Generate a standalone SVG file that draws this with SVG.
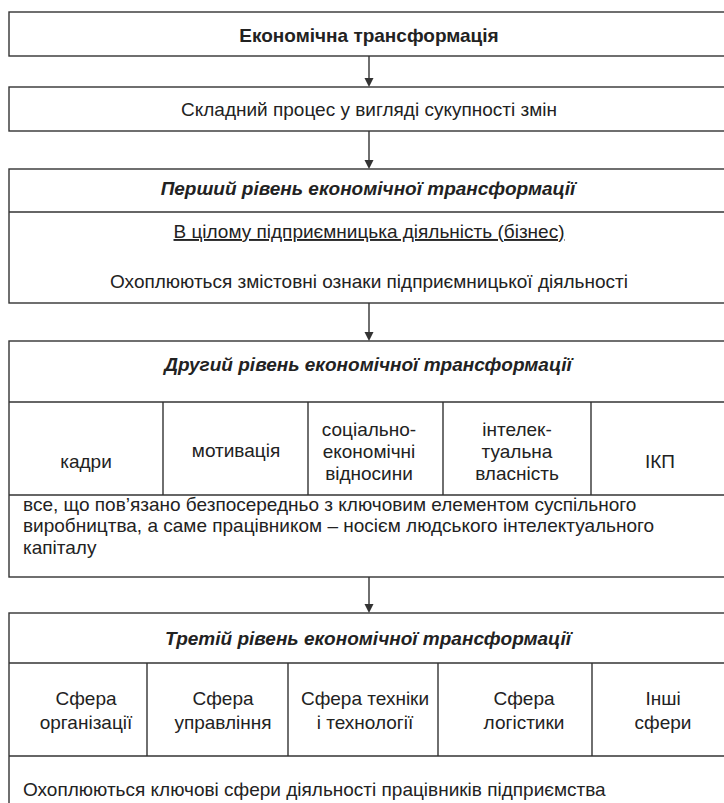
<svg xmlns="http://www.w3.org/2000/svg" width="724" height="803" viewBox="0 0 724 803">
<style>
.b{fill:none;stroke:#333;stroke-width:1.4}
.l{stroke:#333;stroke-width:1.4}
.ah{fill:#333}
text{font-family:'Liberation Sans',Arial,sans-serif;font-size:19px;fill:#222}
.c{text-anchor:middle}
.bd{font-weight:bold}
.it{font-weight:bold;font-style:italic}
</style>
<g id="connectors">
<line class="l" x1="369" y1="56" x2="369" y2="79"/><path class="ah" d="M364.5,78 L373.5,78 L369,87 Z"/>
<line class="l" x1="369" y1="131" x2="369" y2="161"/><path class="ah" d="M364.5,160 L373.5,160 L369,169 Z"/>
<line class="l" x1="369" y1="303" x2="369" y2="333"/><path class="ah" d="M364.5,332 L373.5,332 L369,341 Z"/>
<line class="l" x1="369" y1="577" x2="369" y2="605"/><path class="ah" d="M364.5,604 L373.5,604 L369,613 Z"/>
</g>
<g id="n1">
<rect class="b" x="9" y="12" width="721" height="44"/>
<text class="c bd" x="369" y="42">Економічна трансформація</text>
</g>
<g id="n2">
<rect class="b" x="9" y="87" width="721" height="44"/>
<text class="c" x="369" y="116">Складний процес у вигляді сукупності змін</text>
</g>
<g id="n3">
<rect class="b" x="9" y="169" width="721" height="134"/>
<line class="l" x1="9" y1="212" x2="730" y2="212"/>
<text class="c it" x="368" y="195">Перший рівень економічної трансформації</text>
<text class="c" x="369" y="238" text-decoration="underline">В цілому підприємницька діяльність (бізнес)</text>
<text class="c" x="369" y="288">Охоплюються змістовні ознаки підприємницької діяльності</text>
</g>
<g id="n4">
<rect class="b" x="9" y="341" width="721" height="236"/>
<line class="l" x1="9" y1="402" x2="730" y2="402"/>
<line class="l" x1="9" y1="495" x2="730" y2="495"/>
<line class="l" x1="163" y1="402" x2="163" y2="495"/>
<line class="l" x1="308" y1="402" x2="308" y2="495"/>
<line class="l" x1="443" y1="402" x2="443" y2="495"/>
<line class="l" x1="591" y1="402" x2="591" y2="495"/>
<text class="c it" x="368" y="371">Другий рівень економічної трансформації</text>
<text class="c" x="86" y="468">кадри</text>
<text class="c" x="236" y="457">мотивація</text>
<text class="c" x="369" y="436">соціально-</text>
<text class="c" x="369" y="458">економічні</text>
<text class="c" x="369" y="480">відносини</text>
<text class="c" x="517" y="436">інтелек-</text>
<text class="c" x="517" y="458">туальна</text>
<text class="c" x="517" y="480">власність</text>
<text class="c" x="660" y="468">ІКП</text>
<text x="23" y="511">все, що пов’язано безпосередньо з ключовим елементом суспільного</text>
<text x="23" y="532">виробництва, а саме працівником – носієм людського інтелектуального</text>
<text x="23" y="554">капіталу</text>
</g>
<g id="n5">
<rect class="b" x="9" y="613" width="721" height="200"/>
<line class="l" x1="9" y1="663" x2="730" y2="663"/>
<line class="l" x1="9" y1="756" x2="730" y2="756"/>
<line class="l" x1="147" y1="663" x2="147" y2="756"/>
<line class="l" x1="288" y1="663" x2="288" y2="756"/>
<line class="l" x1="438" y1="663" x2="438" y2="756"/>
<line class="l" x1="592" y1="663" x2="592" y2="756"/>
<text class="c it" x="368" y="645">Третій рівень економічної трансформації</text>
<text class="c" x="86" y="705">Сфера</text>
<text class="c" x="86" y="729">організації</text>
<text class="c" x="223" y="705">Сфера</text>
<text class="c" x="223" y="729">управління</text>
<text class="c" x="365" y="705">Сфера техніки</text>
<text class="c" x="365" y="729">і технології</text>
<text class="c" x="524" y="705">Сфера</text>
<text class="c" x="524" y="729">логістики</text>
<text class="c" x="663" y="705">Інші</text>
<text class="c" x="663" y="729">сфери</text>
<text x="23" y="796">Охоплюються ключові сфери діяльності працівників підприємства</text>
</g>
</svg>
